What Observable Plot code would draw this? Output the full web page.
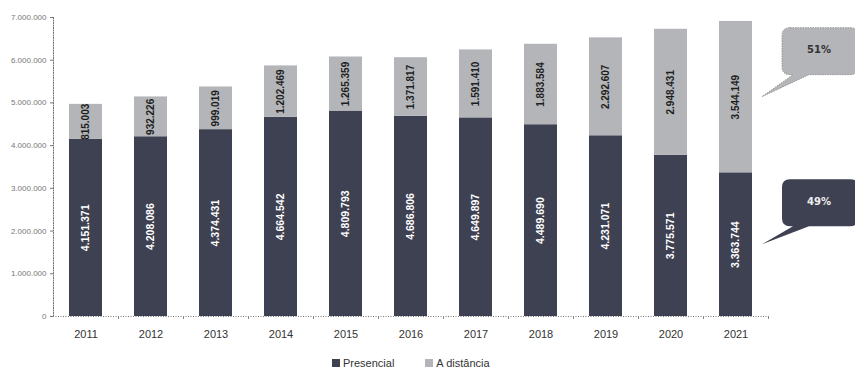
<!DOCTYPE html>
<html><head><meta charset="utf-8">
<script src="https://cdn.jsdelivr.net/npm/d3@7"></script>
<script src="https://cdn.jsdelivr.net/npm/@observablehq/plot@0.6"></script>
<style>
body{margin:0;background:#fff;font-family:"Liberation Sans",Arial,sans-serif;}
#wrap{position:relative;width:855px;height:374px;}
#legend{position:absolute;top:356px;left:332px;display:flex;gap:0;font-size:11px;color:#333;line-height:14px;}
#legend span.it{display:flex;align-items:center;margin-right:31px;}
#legend i{display:inline-block;width:8px;height:8px;margin-right:3px;}
</style></head><body>
<div id="wrap"><div id="chart"></div><div id="legend"></div></div>
<script>
const years = ["2011","2012","2013","2014","2015","2016","2017","2018","2019","2020","2021"];
const presencial = [4151371,4208086,4374431,4664542,4809793,4686806,4649897,4489690,4231071,3775571,3363744];
const distancia = [815003,932226,999019,1202469,1265359,1371817,1591410,1883584,2292607,2948431,3544149];
const seriesNames = ["Presencial","A distância"];
const seriesColors = ["#3e4151","#b3b5b8"];
const yTicks = [0,1000000,2000000,3000000,4000000,5000000,6000000,7000000];

const loc = d3.formatLocale({decimal:",", thousands:".", grouping:[3], currency:["",""]});
const fmt = loc.format(",d");
const pct = d3.format(".0%");

const rows = [];
years.forEach((y,i)=>{
  rows.push({year:y, serie:seriesNames[0], value:presencial[i], mid:presencial[i]/2});
  rows.push({year:y, serie:seriesNames[1], value:distancia[i], mid:presencial[i]+distancia[i]/2});
});

const last = years.length-1;
const lastYear = years[last];
const totalLast = presencial[last]+distancia[last];

function callout(year, value, label, fill, textColor, stroke, boxTop) {
  return (index, scales) => {
    const sx = scales.x, sy = scales.y;
    let bw = (typeof sx.bandwidth === "function") ? sx.bandwidth() : (scales.scales && scales.scales.x ? scales.scales.x.bandwidth : 33);
    const tx = sx(year) + bw + 10, ty = sy(value);
    const L = tx + 20, T = ty - boxTop, W = 76, H = 47, R = L + W, B = T + H, r = 8;
    const a1 = L + 11, a2 = L + 27;
    const g = d3.create("svg:g");
    g.append("path")
      .attr("d", `M${L+r},${T}H${R-r}Q${R},${T} ${R},${T+r}V${B-r}Q${R},${B} ${R-r},${B}H${a2}L${tx},${ty}L${a1},${B}H${L+r}Q${L},${B} ${L},${B-r}V${T+r}Q${L},${T} ${L+r},${T}Z`)
      .attr("fill", fill).attr("stroke", stroke).attr("stroke-width", 0.8).attr("stroke-dasharray","1.5,1");
    g.append("text").attr("x", L + 37).attr("y", T + H/2 - 1)
      .attr("text-anchor","middle").attr("dominant-baseline","middle")
      .attr("font-family","DejaVu Sans, sans-serif").attr("font-weight","bold").attr("font-size", 10)
      .attr("fill", textColor).text(label);
    return g.node();
  };
}

const chart = Plot.plot({
  width: 855, height: 348,
  marginTop: 17, marginBottom: 32, marginLeft: 53, marginRight: 87,
  style: {fontFamily: "Liberation Sans, Arial, sans-serif", background: "#fff", overflow: "visible"},
  x: {domain: years, paddingInner: 0.49, paddingOuter: 0.245, label: null, axis: null},
  y: {domain: [0, 7000000], label: null, axis: null},
  color: {domain: seriesNames, range: seriesColors},
  marks: [
    Plot.barY(rows, {x:"year", y:"value", fill:"serie", order: seriesNames}),
    Plot.frame({anchor:"left", stroke:"#777", strokeDasharray:"1,1.5"}),
    Plot.ruleY([0], {stroke:"#777", strokeDasharray:"1,1.5"}),
    Plot.axisY({ticks: yTicks, tickFormat: fmt, tickSize: 3, tickPadding: 4, fontSize: 8, fill:"#777", stroke:"#777", label:null}),
    Plot.axisX({tickSize: 0, tickPadding: 14, fontSize: 11, fill: "#333", label: null}),
    Plot.axisX({tickSize: 3, tickFormat: () => "", dx: 32.5, stroke: "#888", label: null}),
    Plot.text(rows.filter(d=>d.serie===seriesNames[0]), {x:"year", y:"mid", text: d=>fmt(d.value), rotate:-90, fill:"#fff", fontWeight:"bold", fontSize:10.5}),
    Plot.text(rows.filter(d=>d.serie===seriesNames[1]), {x:"year", y:"mid", text: d=>fmt(d.value), rotate:-90, fill:"#1e1e1e", fontWeight:600, fontSize:10}),
    callout(lastYear, presencial[last] + distancia[last]/2, pct(distancia[last]/totalLast), "#b3b5b8", "#333", "#8a8a8a", 69),
    callout(lastYear, presencial[last]/2, pct(presencial[last]/totalLast), "#3e4151", "#eee", "none", 65)
  ]
});
document.getElementById("chart").appendChild(chart);

const lg = d3.select("#legend");
seriesNames.forEach((s,i)=>{
  const it = lg.append("span").attr("class","it");
  it.append("i").style("background", seriesColors[i]);
  it.append("span").text(s);
});
</script>
</body></html>
